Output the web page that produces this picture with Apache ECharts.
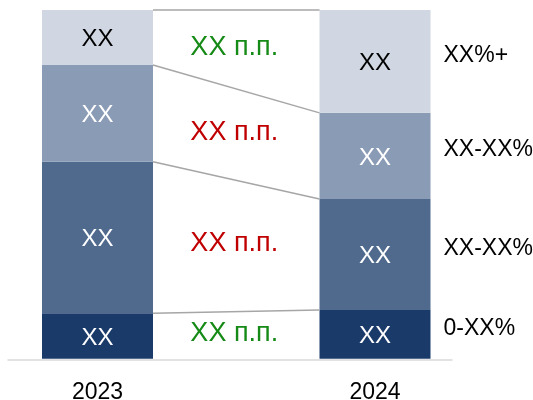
<!DOCTYPE html>
<html>
<head>
<meta charset="utf-8">
<script src="https://cdn.jsdelivr.net/npm/echarts@6/dist/echarts.min.js"></script>
<style>html,body{margin:0;padding:0;background:#fff;}#c{width:533px;height:400px;}</style>
</head>
<body>
<div id="c"></div>
<script>
// ---- data ----
const categories = ['2023', '2024'];
const bandNames = ['0-XX%', 'XX-XX%', 'XX-XX%', 'XX%+'];
const share2023 = [13.0, 43.5, 27.7, 15.8];
const share2024 = [14.0, 31.8, 24.7, 29.5];
const segmentLabels = ['XX', 'XX', 'XX', 'XX'];
const changeLabels = ['XX п.п.', 'XX п.п.', 'XX п.п.', 'XX п.п.'];

// ---- styles ----
const FONT = '"Liberation Sans", Arial, sans-serif';
const BAR_W = 111;
const bandColors = ['#1A3A6A', '#506A8E', '#8A9BB5', '#D0D7E2'];
const bandTextColors = ['#ffffff', '#ffffff', '#ffffff', '#000000'];

function cum(arr, n) { let s = 0; for (let i = 0; i < n; i++) s += arr[i]; return s; }

const chart = echarts.init(document.getElementById('c'), null, { renderer: 'canvas' });

const barSeries = bandNames.map((name, k) => ({
  type: 'bar', name: name, stack: 'total', barWidth: BAR_W,
  xAxisIndex: 0, yAxisIndex: 0,
  data: [share2023[k], share2024[k]],
  itemStyle: { color: bandColors[k] },
  label: {
    show: true, position: 'inside', offset: [0, 2], formatter: () => segmentLabels[k],
    color: bandTextColors[k], fontSize: 24, fontFamily: FONT
  },
  silent: true
}));

const connectorSeries = {
  type: 'custom', xAxisIndex: 0, yAxisIndex: 0, silent: true, z: 5,
  data: bandNames.map((_, k) => [0, cum(share2023, k + 1)]),
  renderItem: function (params, api) {
    const k = params.dataIndex;
    const p0 = api.coord([0, cum(share2023, k + 1)]);
    const p1 = api.coord([1, cum(share2024, k + 1)]);
    return {
      type: 'line',
      shape: { x1: p0[0] + BAR_W / 2, y1: p0[1], x2: p1[0] - BAR_W / 2, y2: p1[1] },
      style: { stroke: '#A6A6A6', lineWidth: 1.5 }
    };
  }
};

const changeSeries = {
  type: 'custom', xAxisIndex: 0, yAxisIndex: 0, silent: true, z: 5,
  data: bandNames.map((_, k) => [0, cum(share2023, k) + share2023[k] / 2]),
  renderItem: function (params, api) {
    const k = params.dataIndex;
    const p0 = api.coord([0, cum(share2023, k) + share2023[k] / 2]);
    const p1 = api.coord([1, cum(share2024, k) + share2024[k] / 2]);
    const up = share2024[k] >= share2023[k];
    return {
      type: 'text',
      x: (p0[0] + p1[0]) / 2 - 2, y: (p0[1] + p1[1]) / 2 - 2,
      style: {
        text: changeLabels[k], fill: up ? '#168A16' : '#C00000',
        fontSize: 27, fontFamily: FONT, align: 'center', verticalAlign: 'middle'
      }
    };
  }
};

const bandLabelSeries = {
  type: 'custom', xAxisIndex: 0, yAxisIndex: 0, silent: true, z: 5,
  data: bandNames.map((_, k) => [1, cum(share2024, k) + share2024[k] / 2]),
  renderItem: function (params, api) {
    const k = params.dataIndex;
    const p = api.coord([1, cum(share2024, k) + share2024[k] / 2]);
    return {
      type: 'text',
      x: p[0] + BAR_W / 2 + 13, y: p[1] - 6,
      style: {
        text: bandNames[k], fill: '#000000',
        fontSize: 23, fontFamily: FONT, align: 'left', verticalAlign: 'middle'
      }
    };
  }
};

chart.setOption({
  animation: false,
  backgroundColor: '#ffffff',
  grid: [
    { left: 97.5, right: 158, top: 10, bottom: 41.3, containLabel: false, outerBoundsMode: 'none' },
    { left: 8, right: 81, top: 10, bottom: 40.7, containLabel: false, outerBoundsMode: 'none' }
  ],
  xAxis: [
    {
      gridIndex: 0, type: 'category', data: categories, boundaryGap: false,
      axisLine: { show: false }, axisTick: { show: false }, splitLine: { show: false },
      axisLabel: { color: '#000000', fontSize: 23, fontFamily: FONT, margin: 22 }
    },
    {
      gridIndex: 1, type: 'value', min: 0, max: 1,
      axisLine: { show: true, lineStyle: { color: '#D9D9D9', width: 1.5 } },
      axisTick: { show: false }, axisLabel: { show: false }, splitLine: { show: false }
    }
  ],
  yAxis: [
    { gridIndex: 0, type: 'value', min: 0, max: 100, show: false },
    { gridIndex: 1, type: 'value', min: 0, max: 1, show: false }
  ],
  series: [...barSeries, connectorSeries, changeSeries, bandLabelSeries]
});
</script>
</body>
</html>
